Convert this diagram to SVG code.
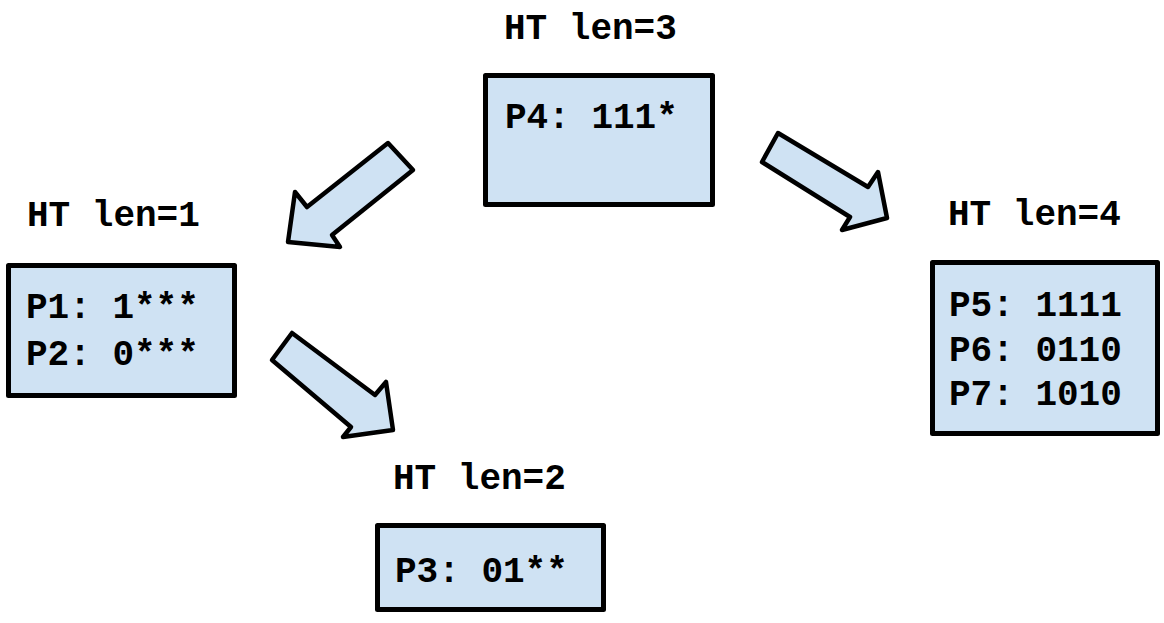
<svg xmlns="http://www.w3.org/2000/svg" width="1164" height="623" viewBox="0 0 1164 623">
<style>
.box{fill:#cfe2f3;stroke:#000;stroke-width:5;stroke-linejoin:round}
.arr{fill:#cfe2f3;stroke:#000;stroke-width:4.5;stroke-linejoin:round}
text{font-family:"Liberation Mono","Courier New",monospace;font-weight:bold;font-size:36px;fill:#000}
</style>
<rect width="1164" height="623" fill="#fff"/>
<g id="ht3">
<text x="504" y="39">HT len=3</text>
<rect class="box" x="485.5" y="75.5" width="227" height="129"/>
<text x="505" y="128">P4: 111*</text>
</g>
<g id="ht1">
<text x="27" y="226">HT len=1</text>
<rect class="box" x="8.5" y="265.5" width="226" height="130"/>
<text x="26" y="318">P1: 1***</text>
<text x="26" y="365">P2: 0***</text>
</g>
<g id="ht4">
<text x="948" y="225">HT len=4</text>
<rect class="box" x="932.5" y="262.5" width="225" height="171"/>
<text x="949" y="316">P5: 1111</text>
<text x="949" y="361">P6: 0110</text>
<text x="949" y="405">P7: 1010</text>
</g>
<g id="ht2">
<text x="393" y="489">HT len=2</text>
<rect class="box" x="377.5" y="525.5" width="226" height="84"/>
<text x="395" y="582">P3: 01**</text>
</g>
<g id="connectors">
<polygon class="arr" points="388,143 413,170 332,235 340,247 288,242 295,192 307,207"/>
<polygon class="arr" points="778,133 868,187 878,172 887,218 842,230 850,217 762,162"/>
<polygon class="arr" points="292,333 375,395 386,382 393,430 343,437 351,427 272,360"/>
</g>
</svg>
